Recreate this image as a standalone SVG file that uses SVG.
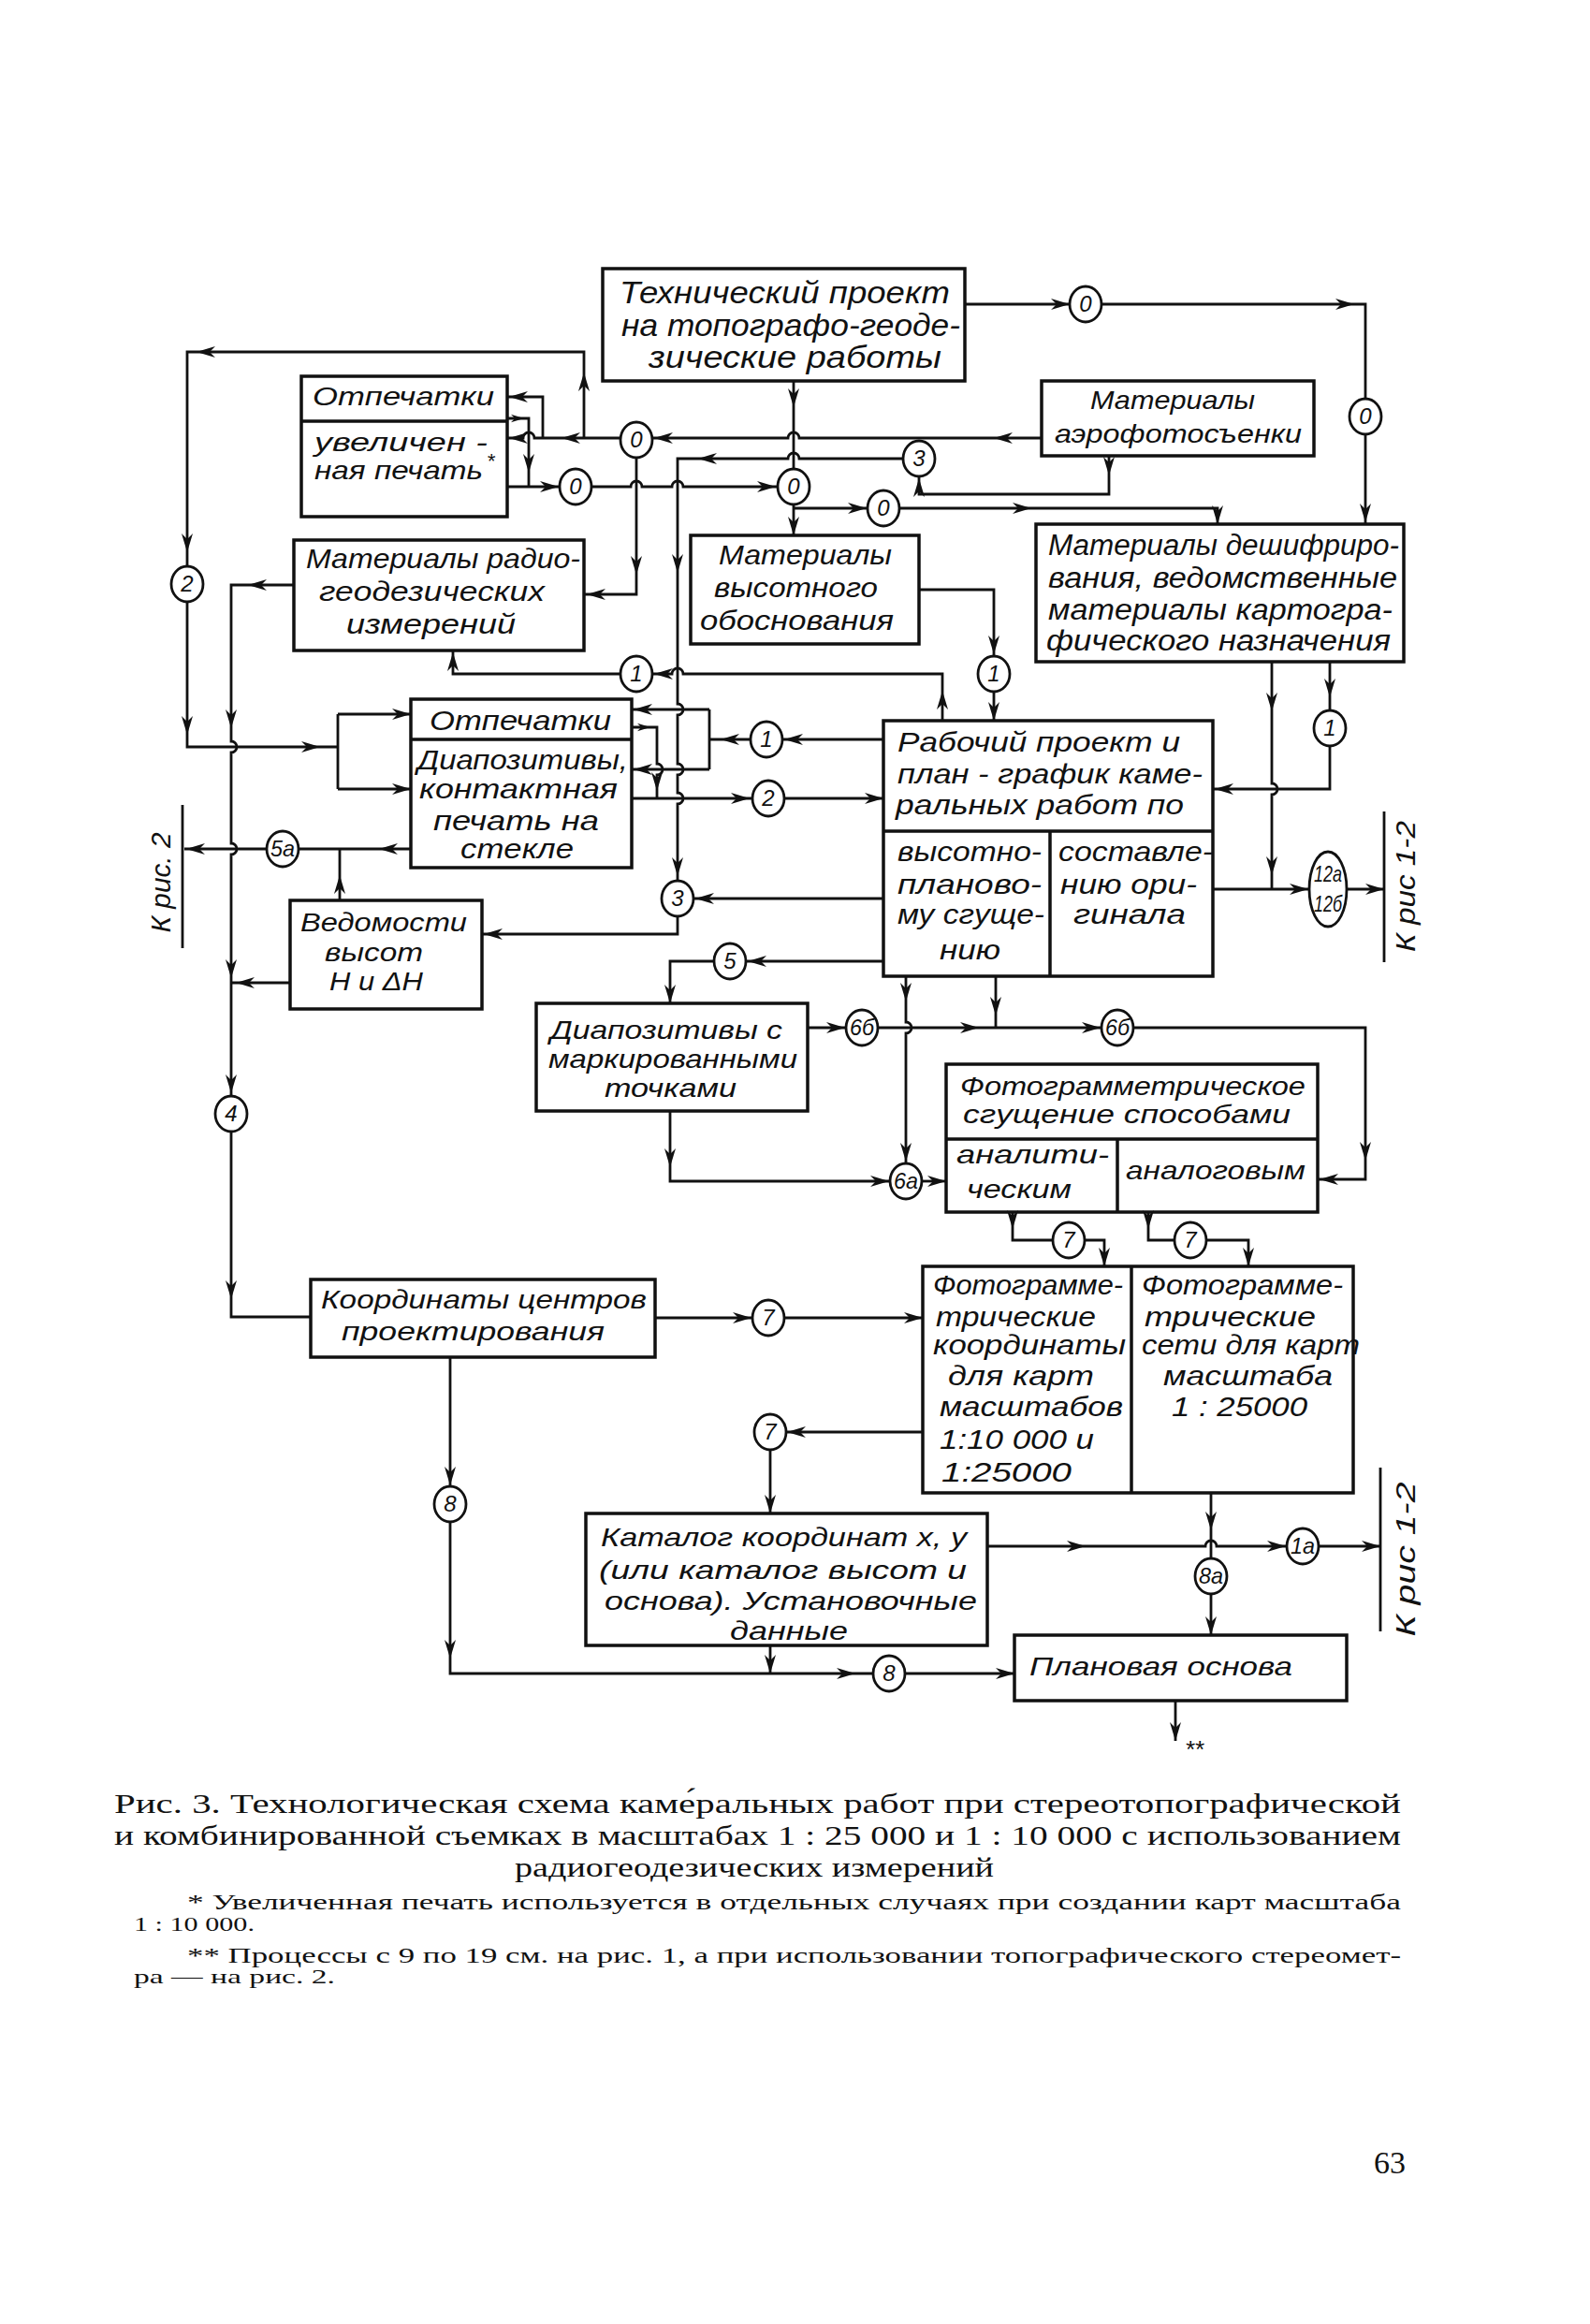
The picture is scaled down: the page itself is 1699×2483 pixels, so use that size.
<svg xmlns="http://www.w3.org/2000/svg" xmlns:xlink="http://www.w3.org/1999/xlink" width="1699" height="2483" viewBox="0 0 1699 2483">
<style>
.bx{fill:none;stroke:#111;stroke-width:3.5}
.ln path{fill:none;stroke:#111;stroke-width:2.8}
.bar{fill:none;stroke:#111;stroke-width:3.5}
.c{fill:#fff;stroke:#111;stroke-width:2.8}
.t{font-family:"Liberation Sans","DejaVu Sans",sans-serif;font-style:italic;fill:#111}
.f36{font-size:33px}.f32{font-size:31px}.f30{font-size:30px}.f28{font-size:28px}
.cl{font-family:"Liberation Sans","DejaVu Sans",sans-serif;font-style:italic;fill:#111;font-size:24px;text-anchor:middle}
.cap{font-family:"Liberation Serif","DejaVu Serif",serif;fill:#111}
</style>
<defs>
<path id="ah" d="M0,0 L-20,-6 L-14,0 L-20,6 Z" fill="#111"/>
</defs>
<rect width="1699" height="2483" fill="#fff"/>

<g id="tech"><rect class="bx" x="644" y="287" width="387" height="120"/>
<text class="t f36" x="662" y="324" textLength="353" lengthAdjust="spacingAndGlyphs">Технический проект</text>
<text class="t f36" x="664" y="359" textLength="362" lengthAdjust="spacingAndGlyphs">на топографо-геоде-</text>
<text class="t f36" x="693" y="393" textLength="313" lengthAdjust="spacingAndGlyphs">зические работы</text></g>

<g id="aero"><rect class="bx" x="1113" y="407" width="291" height="80"/>
<text class="t f28" x="1165" y="437" textLength="176" lengthAdjust="spacingAndGlyphs">Материалы</text>
<text class="t f28" x="1127" y="473" textLength="264" lengthAdjust="spacingAndGlyphs">аэрофотосъенки</text></g>

<g id="deshifr"><rect class="bx" x="1107" y="560" width="393" height="147"/>
<text class="t f32" x="1120" y="593" textLength="375" lengthAdjust="spacingAndGlyphs">Материалы дешифриро-</text>
<text class="t f32" x="1120" y="628" textLength="373" lengthAdjust="spacingAndGlyphs">вания, ведомственные</text>
<text class="t f32" x="1120" y="662" textLength="368" lengthAdjust="spacingAndGlyphs">материалы картогра-</text>
<text class="t f32" x="1118" y="695" textLength="368" lengthAdjust="spacingAndGlyphs">фического назначения</text></g>

<g id="radio"><rect class="bx" x="314" y="577" width="310" height="118"/>
<text class="t f30" x="327" y="607" textLength="293" lengthAdjust="spacingAndGlyphs">Материалы радио-</text>
<text class="t f30" x="341" y="642" textLength="241" lengthAdjust="spacingAndGlyphs">геодезических</text>
<text class="t f30" x="370" y="677" textLength="181" lengthAdjust="spacingAndGlyphs">измерений</text></g>

<g id="vysot"><rect class="bx" x="738" y="572" width="244" height="116"/>
<text class="t f30" x="768" y="603" textLength="185" lengthAdjust="spacingAndGlyphs">Материалы</text>
<text class="t f30" x="763" y="638" textLength="175" lengthAdjust="spacingAndGlyphs">высотного</text>
<text class="t f30" x="748" y="673" textLength="207" lengthAdjust="spacingAndGlyphs">обоснования</text></g>

<g id="otpech1"><rect class="bx" x="322" y="402" width="220" height="150"/>
<path class="bx" d="M322,450 H542"/>
<text class="t f28" x="334" y="433" textLength="194" lengthAdjust="spacingAndGlyphs">Отпечатки</text>
<text class="t f28" x="336" y="482" textLength="185" lengthAdjust="spacingAndGlyphs">увеличен -</text>
<text class="t f28" x="336" y="512" textLength="180" lengthAdjust="spacingAndGlyphs">ная печать</text>
<text class="t" style="font-size:22px" x="520" y="500">*</text></g>

<g id="otpech2"><rect class="bx" x="439" y="747" width="236" height="180"/>
<path class="bx" d="M439,790 H675"/>
<text class="t f30" x="459" y="780" textLength="194" lengthAdjust="spacingAndGlyphs">Отпечатки</text>
<text class="t f30" x="446" y="822" textLength="225" lengthAdjust="spacingAndGlyphs">Диапозитивы,</text>
<text class="t f30" x="448" y="853" textLength="212" lengthAdjust="spacingAndGlyphs">контактная</text>
<text class="t f30" x="463" y="887" textLength="177" lengthAdjust="spacingAndGlyphs">печать на</text>
<text class="t f30" x="492" y="917" textLength="121" lengthAdjust="spacingAndGlyphs">стекле</text></g>

<g id="rabochiy"><rect class="bx" x="944" y="770" width="352" height="273"/>
<path class="bx" d="M944,888 H1296 M1122,888 V1043"/>
<text class="t f30" x="959" y="803" textLength="302" lengthAdjust="spacingAndGlyphs">Рабочий проект и</text>
<text class="t f30" x="959" y="837" textLength="326" lengthAdjust="spacingAndGlyphs">план - график каме-</text>
<text class="t f30" x="957" y="870" textLength="308" lengthAdjust="spacingAndGlyphs">ральных работ по</text>
<text class="t f30" x="959" y="920" textLength="154" lengthAdjust="spacingAndGlyphs">высотно-</text>
<text class="t f30" x="959" y="955" textLength="154" lengthAdjust="spacingAndGlyphs">планово-</text>
<text class="t f30" x="959" y="987" textLength="157" lengthAdjust="spacingAndGlyphs">му сгуще-</text>
<text class="t f30" x="1004" y="1025" textLength="65" lengthAdjust="spacingAndGlyphs">нию</text>
<text class="t f30" x="1131" y="920" textLength="165" lengthAdjust="spacingAndGlyphs">составле-</text>
<text class="t f30" x="1133" y="955" textLength="146" lengthAdjust="spacingAndGlyphs">нию ори-</text>
<text class="t f30" x="1147" y="987" textLength="120" lengthAdjust="spacingAndGlyphs">гинала</text></g>

<g id="vedomosti"><rect class="bx" x="310" y="962" width="205" height="116"/>
<text class="t f28" x="321" y="995" textLength="178" lengthAdjust="spacingAndGlyphs">Ведомости</text>
<text class="t f28" x="347" y="1027" textLength="105" lengthAdjust="spacingAndGlyphs">высот</text>
<text class="t f28" x="352" y="1058" textLength="100" lengthAdjust="spacingAndGlyphs">Н и ΔН</text></g>

<g id="diapoz"><rect class="bx" x="573" y="1072" width="290" height="115"/>
<text class="t f28" x="588" y="1110" textLength="248" lengthAdjust="spacingAndGlyphs">Диапозитивы с</text>
<text class="t f28" x="586" y="1141" textLength="266" lengthAdjust="spacingAndGlyphs">маркированными</text>
<text class="t f28" x="646" y="1172" textLength="141" lengthAdjust="spacingAndGlyphs">точками</text></g>

<g id="koord"><rect class="bx" x="332" y="1367" width="368" height="83"/>
<text class="t f28" x="343" y="1398" textLength="348" lengthAdjust="spacingAndGlyphs">Координаты центров</text>
<text class="t f28" x="365" y="1432" textLength="281" lengthAdjust="spacingAndGlyphs">проектирования</text></g>

<g id="sgush"><rect class="bx" x="1011" y="1137" width="397" height="158"/>
<path class="bx" d="M1011,1217 H1408 M1194,1217 V1295"/>
<text class="t f28" x="1026" y="1170" textLength="369" lengthAdjust="spacingAndGlyphs">Фотограмметрическое</text>
<text class="t f28" x="1029" y="1200" textLength="350" lengthAdjust="spacingAndGlyphs">сгущение способами</text>
<text class="t f28" x="1022" y="1243" textLength="163" lengthAdjust="spacingAndGlyphs">аналити-</text>
<text class="t f28" x="1033" y="1280" textLength="112" lengthAdjust="spacingAndGlyphs">ческим</text>
<text class="t f28" x="1203" y="1260" textLength="192" lengthAdjust="spacingAndGlyphs">аналоговым</text></g>

<g id="foto"><rect class="bx" x="986" y="1353" width="460" height="242"/>
<path class="bx" d="M1209,1353 V1595"/>
<text class="t f30" x="997" y="1383" textLength="203" lengthAdjust="spacingAndGlyphs">Фотограмме-</text>
<text class="t f30" x="1000" y="1417" textLength="171" lengthAdjust="spacingAndGlyphs">трические</text>
<text class="t f30" x="997" y="1447" textLength="206" lengthAdjust="spacingAndGlyphs">координаты</text>
<text class="t f30" x="1013" y="1480" textLength="156" lengthAdjust="spacingAndGlyphs">для карт</text>
<text class="t f30" x="1004" y="1513" textLength="196" lengthAdjust="spacingAndGlyphs">масштабов</text>
<text class="t f30" x="1004" y="1548" textLength="165" lengthAdjust="spacingAndGlyphs">1:10 000 и</text>
<text class="t f30" x="1006" y="1583" textLength="139" lengthAdjust="spacingAndGlyphs">1:25000</text>
<text class="t f30" x="1220" y="1383" textLength="215" lengthAdjust="spacingAndGlyphs">Фотограмме-</text>
<text class="t f30" x="1223" y="1417" textLength="183" lengthAdjust="spacingAndGlyphs">трические</text>
<text class="t f30" x="1220" y="1447" textLength="233" lengthAdjust="spacingAndGlyphs">сети для карт</text>
<text class="t f30" x="1243" y="1480" textLength="181" lengthAdjust="spacingAndGlyphs">масштаба</text>
<text class="t f30" x="1252" y="1513" textLength="145" lengthAdjust="spacingAndGlyphs">1 : 25000</text></g>

<g id="katalog"><rect class="bx" x="626" y="1617" width="429" height="141"/>
<text class="t f28" x="642" y="1652" textLength="391" lengthAdjust="spacingAndGlyphs">Каталог координат х, у</text>
<text class="t f28" x="640" y="1687" textLength="393" lengthAdjust="spacingAndGlyphs">(или каталог высот и</text>
<text class="t f28" x="646" y="1720" textLength="398" lengthAdjust="spacingAndGlyphs">основа). Установочные</text>
<text class="t f28" x="780" y="1752" textLength="126" lengthAdjust="spacingAndGlyphs">данные</text></g>

<g id="planovaya"><rect class="bx" x="1084" y="1747" width="355" height="70"/>
<text class="t f28" x="1100" y="1790" textLength="281" lengthAdjust="spacingAndGlyphs">Плановая основа</text></g>

<g id="connectors" class="ln">
<path d="M1031,325 H1143"/>
<path d="M1177,325 H1459 V426"/>
<path d="M1459,464 V560"/>
<path d="M848,407 V501"/>
<path d="M848,539 V572"/>
<path d="M848,543 H927"/>
<path d="M961,543 H1301 V560"/>
<path d="M1113,468 H854 A6,6 0 0 0 842,468 H697"/>
<path d="M663,468 H571 A6,6 0 0 0 559,468 H542"/>
<path d="M580,468 V424 H542"/>
<path d="M624,468 V376 H200 V605"/>
<path d="M542,447 H565 V520 M542,520 H598"/>
<path d="M632,520 H674 A6,6 0 0 1 686,520 H718 A6,6 0 0 1 730,520 H831"/>
<path d="M680,489 V635 H625"/>
<path d="M965,490 H854 A6,6 0 0 0 842,490 H724 V752 A6,6 0 0 1 724,764 V816 A6,6 0 0 1 724,828 V847 A6,6 0 0 1 724,859 V941"/>
<path d="M1185,487 V528 H982 V509"/>
<path d="M982,630 H1062 V701"/>
<path d="M1062,739 V770"/>
<path d="M1007,770 V720 H730 A6,6 0 0 0 718,720 H697"/>
<path d="M663,720 H484 V695"/>
<path d="M944,790 H836"/>
<path d="M802,790 H758 M758,758 V822 M758,758 H675 M758,822 H675"/>
<path d="M675,777 H702 V816 A6,6 0 0 1 702,828 V853"/>
<path d="M675,853 H803"/>
<path d="M839,853 H944"/>
<path d="M944,960 H741"/>
<path d="M724,979 V998 H515"/>
<path d="M944,1027 H797"/>
<path d="M763,1027 H716 V1072"/>
<path d="M863,1098 H904"/>
<path d="M938,1098 H1177"/>
<path d="M1211,1098 H1459 V1260 H1408"/>
<path d="M968,1043 V1092 A6,6 0 0 1 968,1104 V1243"/>
<path d="M1064,1043 V1098"/>
<path d="M716,1187 V1262 H951"/>
<path d="M985,1262 H1011"/>
<path d="M1082,1295 V1325 H1125"/>
<path d="M1159,1325 H1180 V1353"/>
<path d="M1227,1295 V1325 H1255"/>
<path d="M1289,1325 H1334 V1353"/>
<path d="M700,1408 H804"/>
<path d="M838,1408 H986"/>
<path d="M986,1530 H840"/>
<path d="M823,1549 V1617"/>
<path d="M481,1450 V1588"/>
<path d="M481,1626 V1788 H933"/>
<path d="M823,1758 V1788"/>
<path d="M967,1788 H1084"/>
<path d="M1294,1595 V1665"/>
<path d="M1294,1703 V1747"/>
<path d="M1055,1652 H1288 A6,6 0 0 1 1300,1652 H1375"/>
<path d="M1409,1652 H1475"/>
<path d="M1256,1817 V1860"/>
<path d="M1359,707 V837 A6,6 0 0 1 1359,849 V950 M1296,950 H1399"/>
<path d="M1421,707 V759 M1421,797 V843 H1296"/>
<path d="M1439,950 H1479"/>
<path d="M313,625 H247 V792 A6,6 0 0 1 247,804 V901 A6,6 0 0 1 247,913 V1171"/>
<path d="M247,1209 V1407 H332"/>
<path d="M310,1050 H247"/>
<path d="M200,643 V798 H361 M361,763 V843 M361,763 H439 M361,843 H439"/>
<path d="M439,907 H319 M285,907 H197 M363,962 V907"/>
<path class="bar" d="M195,860 V1013"/>
<path class="bar" d="M1479,867 V1028"/>
<path class="bar" d="M1475,1568 V1743"/>

<use href="#ah" transform="translate(1143,325)"/>
<use href="#ah" transform="translate(1447,325)"/>
<use href="#ah" transform="translate(1459,558) rotate(90)"/>
<use href="#ah" transform="translate(848,435) rotate(90)"/>
<use href="#ah" transform="translate(848,572) rotate(90)"/>
<use href="#ah" transform="translate(926,543)"/>
<use href="#ah" transform="translate(1102,543)"/>
<use href="#ah" transform="translate(1301,560) rotate(90)"/>
<use href="#ah" transform="translate(1062,468) rotate(180)"/>
<use href="#ah" transform="translate(699,468) rotate(180)"/>
<use href="#ah" transform="translate(600,468) rotate(180)"/>
<use href="#ah" transform="translate(544,468) rotate(180)"/>
<use href="#ah" transform="translate(544,424) rotate(180)"/>
<use href="#ah" transform="translate(624,398) rotate(-90)"/>
<use href="#ah" transform="translate(210,376) rotate(180)"/>
<use href="#ah" transform="translate(200,590) rotate(90)"/>
<use href="#ah" transform="translate(560,447) scale(0.7)"/>
<use href="#ah" transform="translate(565,505) rotate(90)"/>
<use href="#ah" transform="translate(597,520)"/>
<use href="#ah" transform="translate(829,520)"/>
<use href="#ah" transform="translate(680,614) rotate(90)"/>
<use href="#ah" transform="translate(627,635) rotate(180)"/>
<use href="#ah" transform="translate(746,490) rotate(180)"/>
<use href="#ah" transform="translate(724,612) rotate(90)"/>
<use href="#ah" transform="translate(724,936) rotate(90)"/>
<use href="#ah" transform="translate(1185,508) rotate(90)"/>
<use href="#ah" transform="translate(982,511) rotate(-90)"/>
<use href="#ah" transform="translate(1062,699) rotate(90)"/>
<use href="#ah" transform="translate(1062,770) rotate(90)"/>
<use href="#ah" transform="translate(1007,738) rotate(-90)"/>
<use href="#ah" transform="translate(699,720) rotate(180)"/>
<use href="#ah" transform="translate(484,697) rotate(-90)"/>
<use href="#ah" transform="translate(838,790) rotate(180)"/>
<use href="#ah" transform="translate(770,790) rotate(180)"/>
<use href="#ah" transform="translate(677,758) rotate(180)"/>
<use href="#ah" transform="translate(677,822) rotate(180)"/>
<use href="#ah" transform="translate(695,777) scale(0.7)"/>
<use href="#ah" transform="translate(702,845) rotate(90)"/>
<use href="#ah" transform="translate(801,853)"/>
<use href="#ah" transform="translate(944,853)"/>
<use href="#ah" transform="translate(743,960) rotate(180)"/>
<use href="#ah" transform="translate(517,998) rotate(180)"/>
<use href="#ah" transform="translate(799,1027) rotate(180)"/>
<use href="#ah" transform="translate(716,1072) rotate(90)"/>
<use href="#ah" transform="translate(903,1098)"/>
<use href="#ah" transform="translate(1046,1098)"/>
<use href="#ah" transform="translate(1176,1098)"/>
<use href="#ah" transform="translate(1459,1240) rotate(90)"/>
<use href="#ah" transform="translate(1410,1260) rotate(180)"/>
<use href="#ah" transform="translate(968,1070) rotate(90)"/>
<use href="#ah" transform="translate(968,1241) rotate(90)"/>
<use href="#ah" transform="translate(1064,1085) rotate(90)"/>
<use href="#ah" transform="translate(716,1247) rotate(90)"/>
<use href="#ah" transform="translate(950,1262)"/>
<use href="#ah" transform="translate(1011,1262)"/>
<use href="#ah" transform="translate(1082,1313) rotate(90)"/>
<use href="#ah" transform="translate(1180,1353) rotate(90)"/>
<use href="#ah" transform="translate(1227,1313) rotate(90)"/>
<use href="#ah" transform="translate(1334,1353) rotate(90)"/>
<use href="#ah" transform="translate(803,1408)"/>
<use href="#ah" transform="translate(986,1408)"/>
<use href="#ah" transform="translate(841,1530) rotate(180)"/>
<use href="#ah" transform="translate(823,1617) rotate(90)"/>
<use href="#ah" transform="translate(481,1587) rotate(90)"/>
<use href="#ah" transform="translate(481,1772) rotate(90)"/>
<use href="#ah" transform="translate(914,1788)"/>
<use href="#ah" transform="translate(823,1788) rotate(90)"/>
<use href="#ah" transform="translate(1084,1788)"/>
<use href="#ah" transform="translate(1294,1635) rotate(90)"/>
<use href="#ah" transform="translate(1294,1747) rotate(90)"/>
<use href="#ah" transform="translate(1160,1652)"/>
<use href="#ah" transform="translate(1374,1652)"/>
<use href="#ah" transform="translate(1475,1652)"/>
<use href="#ah" transform="translate(1256,1860) rotate(90)"/>
<use href="#ah" transform="translate(1359,760) rotate(90)"/>
<use href="#ah" transform="translate(1359,935) rotate(90)"/>
<use href="#ah" transform="translate(1398,950)"/>
<use href="#ah" transform="translate(1421,745) rotate(90)"/>
<use href="#ah" transform="translate(1298,843) rotate(180)"/>
<use href="#ah" transform="translate(1479,950)"/>
<use href="#ah" transform="translate(265,625) rotate(180)"/>
<use href="#ah" transform="translate(247,778) rotate(90)"/>
<use href="#ah" transform="translate(247,1045) rotate(90)"/>
<use href="#ah" transform="translate(247,1168) rotate(90)"/>
<use href="#ah" transform="translate(247,1388) rotate(90)"/>
<use href="#ah" transform="translate(252,1050) rotate(180)"/>
<use href="#ah" transform="translate(200,785) rotate(90)"/>
<use href="#ah" transform="translate(342,798)"/>
<use href="#ah" transform="translate(439,763)"/>
<use href="#ah" transform="translate(439,843)"/>
<use href="#ah" transform="translate(405,907) rotate(180)"/>
<use href="#ah" transform="translate(199,907) rotate(180)"/>
<use href="#ah" transform="translate(363,935) rotate(-90)"/>
</g>

<g id="c0a"><ellipse class="c" cx="680" cy="470" rx="17" ry="19"/><text class="cl" x="680" y="478">0</text></g>
<g id="c0b"><ellipse class="c" cx="615" cy="520" rx="17" ry="19"/><text class="cl" x="615" y="528">0</text></g>
<g id="c0c"><ellipse class="c" cx="848" cy="520" rx="17" ry="19"/><text class="cl" x="848" y="528">0</text></g>
<g id="c0d"><ellipse class="c" cx="944" cy="543" rx="17" ry="19"/><text class="cl" x="944" y="551">0</text></g>
<g id="c3a"><ellipse class="c" cx="982" cy="490" rx="17" ry="19"/><text class="cl" x="982" y="498">3</text></g>
<g id="c0e"><ellipse class="c" cx="1160" cy="325" rx="17" ry="19"/><text class="cl" x="1160" y="333">0</text></g>
<g id="c0f"><ellipse class="c" cx="1459" cy="445" rx="17" ry="19"/><text class="cl" x="1459" y="453">0</text></g>
<g id="c2a"><ellipse class="c" cx="200" cy="624" rx="17" ry="19"/><text class="cl" x="200" y="632">2</text></g>
<g id="c1a"><ellipse class="c" cx="680" cy="720" rx="17" ry="19"/><text class="cl" x="680" y="728">1</text></g>
<g id="c1b"><ellipse class="c" cx="1062" cy="720" rx="17" ry="19"/><text class="cl" x="1062" y="728">1</text></g>
<g id="c1c"><ellipse class="c" cx="1421" cy="778" rx="17" ry="19"/><text class="cl" x="1421" y="786">1</text></g>
<g id="c1d"><ellipse class="c" cx="819" cy="790" rx="17" ry="19"/><text class="cl" x="819" y="798">1</text></g>
<g id="c2b"><ellipse class="c" cx="821" cy="853" rx="17" ry="19"/><text class="cl" x="821" y="861">2</text></g>
<g id="c5a"><ellipse class="c" cx="302" cy="907" rx="17" ry="19"/><text class="cl" x="302" y="915" textLength="26" lengthAdjust="spacingAndGlyphs">5а</text></g>
<g id="c3b"><ellipse class="c" cx="724" cy="960" rx="17" ry="19"/><text class="cl" x="724" y="968">3</text></g>
<g id="c5"><ellipse class="c" cx="780" cy="1027" rx="17" ry="19"/><text class="cl" x="780" y="1035">5</text></g>
<g id="c12"><ellipse class="c" cx="1419" cy="950" rx="20" ry="40"/><text class="cl" x="1419" y="942" textLength="30" lengthAdjust="spacingAndGlyphs">12а</text><text class="cl" x="1419" y="974" textLength="30" lengthAdjust="spacingAndGlyphs">12б</text></g>
<g id="c4"><ellipse class="c" cx="247" cy="1190" rx="17" ry="19"/><text class="cl" x="247" y="1198">4</text></g>
<g id="c6b1"><ellipse class="c" cx="921" cy="1098" rx="17" ry="19"/><text class="cl" x="921" y="1106" textLength="26" lengthAdjust="spacingAndGlyphs">6б</text></g>
<g id="c6b2"><ellipse class="c" cx="1194" cy="1098" rx="17" ry="19"/><text class="cl" x="1194" y="1106" textLength="26" lengthAdjust="spacingAndGlyphs">6б</text></g>
<g id="c6a"><ellipse class="c" cx="968" cy="1262" rx="17" ry="19"/><text class="cl" x="968" y="1270" textLength="26" lengthAdjust="spacingAndGlyphs">6а</text></g>
<g id="c7a"><ellipse class="c" cx="1142" cy="1325" rx="17" ry="19"/><text class="cl" x="1142" y="1333">7</text></g>
<g id="c7b"><ellipse class="c" cx="1272" cy="1325" rx="17" ry="19"/><text class="cl" x="1272" y="1333">7</text></g>
<g id="c7c"><ellipse class="c" cx="821" cy="1408" rx="17" ry="19"/><text class="cl" x="821" y="1416">7</text></g>
<g id="c7d"><ellipse class="c" cx="823" cy="1530" rx="17" ry="19"/><text class="cl" x="823" y="1538">7</text></g>
<g id="c8a"><ellipse class="c" cx="481" cy="1607" rx="17" ry="19"/><text class="cl" x="481" y="1615">8</text></g>
<g id="c8b"><ellipse class="c" cx="950" cy="1788" rx="17" ry="19"/><text class="cl" x="950" y="1796">8</text></g>
<g id="c8aa"><ellipse class="c" cx="1294" cy="1684" rx="17" ry="19"/><text class="cl" x="1294" y="1692" textLength="26" lengthAdjust="spacingAndGlyphs">8а</text></g>
<g id="c1aa"><ellipse class="c" cx="1392" cy="1652" rx="17" ry="19"/><text class="cl" x="1392" y="1660" textLength="26" lengthAdjust="spacingAndGlyphs">1а</text></g>

<g id="labels">
<text class="t" style="font-size:30px" text-anchor="middle" transform="translate(1512,947) rotate(-90)" textLength="140" lengthAdjust="spacingAndGlyphs">К рис 1-2</text>
<text class="t" style="font-size:30px" text-anchor="middle" transform="translate(1512,1666) rotate(-90)" textLength="165" lengthAdjust="spacingAndGlyphs">К рис 1-2</text>
<text class="t" style="font-size:30px" text-anchor="middle" transform="translate(182,943) rotate(-90)" textLength="107" lengthAdjust="spacingAndGlyphs">К рис. 2</text>
<text class="t" style="font-size:26px" x="1266" y="1878">**</text>
</g>

<g id="caption">
<text class="cap" style="font-size:30px" x="122" y="1937" textLength="1375" lengthAdjust="spacingAndGlyphs">Рис. 3. Технологическая схема каме́ральных работ при стереотопографической</text>
<text class="cap" style="font-size:30px" x="122" y="1971" textLength="1375" lengthAdjust="spacingAndGlyphs">и комбинированной съемках в масштабах 1 : 25 000 и 1 : 10 000 с использованием</text>
<text class="cap" style="font-size:30px" x="550" y="2005" textLength="512" lengthAdjust="spacingAndGlyphs">радиогеодезических измерений</text>
<text class="cap" style="font-size:23px" x="200" y="2040" textLength="1297" lengthAdjust="spacingAndGlyphs">* Увеличенная печать используется в отдельных случаях при создании карт масштаба</text>
<text class="cap" style="font-size:22px" x="143" y="2063" textLength="129" lengthAdjust="spacingAndGlyphs">1 : 10 000.</text>
<text class="cap" style="font-size:23px" x="200" y="2097" textLength="1297" lengthAdjust="spacingAndGlyphs">** Процессы с 9 по 19 см. на рис. 1, а при использовании топографического стереомет-</text>
<text class="cap" style="font-size:22px" x="143" y="2119" textLength="215" lengthAdjust="spacingAndGlyphs">ра — на рис. 2.</text>
<text class="cap" style="font-size:34px" x="1468" y="2322">63</text>
</g>
</svg>
